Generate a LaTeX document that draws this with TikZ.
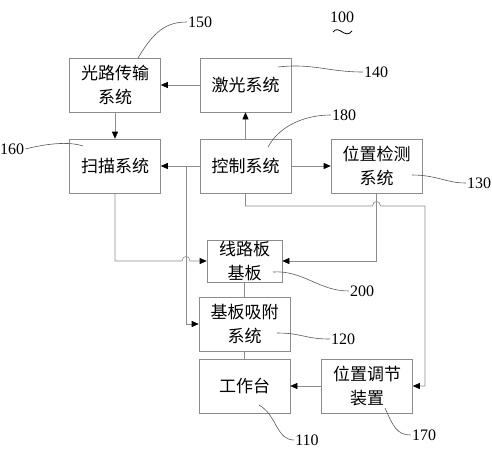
\documentclass[tikz,border=0pt]{standalone}
\usepackage{fontspec}
\setmainfont{Liberation Serif}
\newfontfamily\cjk{Noto Sans CJK SC}
\usetikzlibrary{arrows.meta}

\begin{document}
\begin{tikzpicture}[x=1pt,y=-1pt,
    box/.style={draw=black!45, line width=0.6pt, minimum width=91pt, minimum height=54pt,
        inner sep=0pt, align=center, font=\cjk\fontsize{17}{24}\selectfont},
    wire/.style={draw=black!45, line width=0.6pt},
    arr/.style={wire, -{Triangle[length=7pt,width=6pt,color=black]}},
    lead/.style={draw=black!65, line width=0.6pt},
    num/.style={font=\fontsize{16}{16}\selectfont, inner sep=1pt}]
    % Picture size (pixels of the reference)
    \def\hop{4}   % half width of a line hop
    \useasboundingbox (0,0) rectangle (492,450);

    % Blocks
    \node[box] (optic)  at (115,85)    {光路传输\\系统};
    \node[box] (laser)  at (245.5,85)  {激光系统};
    \node[box] (scan)   at (115,166)   {扫描系统};
    \node[box] (ctrl)   at (245.5,166) {控制系统};
    \node[box] (detect) at (376.5,166) {位置检测\\系统};
    \node[box, minimum width=75pt, minimum height=42pt] (board) at (244.5,261) {线路板\\基板};
    \node[box] (suck)   at (244.5,324) {基板吸附\\系统};
    \node[box] (table)  at (244.5,386) {工作台};
    \node[box] (adjust) at (367,386)   {位置调节\\装置};

    % Reference numbers
    \node[num] (n100) at (342,17)  {100};
    \node[num] (n150) at (200,22)  {150};
    \node[num] (n140) at (376,72)  {140};
    \node[num] (n180) at (344,115) {180};
    \node[num] (n160) at (12,149)  {160};
    \node[num] (n130) at (479,183) {130};
    \node[num] (n200) at (362,291) {200};
    \node[num] (n120) at (343,339) {120};
    \node[num] (n110) at (307,440) {110};
    \node[num] (n170) at (424,435) {170};
    \draw[line width=0.8pt] (333,32) .. controls (339,24) and (345,40) .. (352,31);

    % Helper points
    \coordinate (branch) at (186,166);
    \coordinate (hopA) at (186,261);
    \coordinate (hopB) at (detect.south |- 0,206);
    \coordinate (turn) at (425,206);

    % Signal lines
    \draw[arr] (laser.west) -- (optic.east);
    \draw[arr] (optic.south) -- (scan.north);
    \draw[arr] (ctrl.north) -- (laser.south);
    \draw[arr] (ctrl.west) -- (scan.east);
    \draw[arr] (ctrl.east) -- (detect.west);
    \draw[arr] (branch) |- (suck.west);
    \draw[arr] (scan.south) |- ([xshift=-\hop pt]hopA)
        .. controls +(0,-6) and +(0,-6) .. ([xshift=\hop pt]hopA) -- (board.west);
    \draw[arr] (detect.south) |- (board.east);
    \draw[arr] (ctrl.south) |- ([xshift=-\hop pt]hopB)
        .. controls +(0,-6) and +(0,-6) .. ([xshift=\hop pt]hopB) -- (turn) |- (adjust.east);
    \draw[arr] (adjust.west) -- (table.east);
    \draw[wire] (board.south) -- (suck.north);
    \draw[wire] (suck.south) -- (table.north);

    % Leader lines
    \coordinate (l150) at (138,58);
    \coordinate (l140) at (278,67);
    \coordinate (l180) at (268,147);
    \coordinate (l160) at (83,146);
    \coordinate (l130) at (412,175);
    \coordinate (l200) at (273,272);
    \coordinate (l120) at (277,333);
    \coordinate (l110) at (259,405);
    \coordinate (l170) at (385,408);
    \draw[lead] (l150) .. controls +(15,-25) and +(-22,0) .. (n150.west);
    \draw[lead] (l140) .. controls +(35,-4) and +(-35,0) .. (n140.west);
    \draw[lead] (l180) .. controls +(12,-22) and +(-25,0) .. (n180.west);
    \draw[lead] (n160.east) .. controls +(20,-5) and +(-15,-5) .. (l160);
    \draw[lead] (l130) .. controls +(25,0) and +(-20,0) .. (n130.west);
    \draw[lead] (l200) .. controls +(30,-2) and +(-30,0) .. (n200.west);
    \draw[lead] (l120) .. controls +(25,0) and +(-25,0) .. (n120.west);
    \draw[lead] (l110) .. controls +(18,10) and +(-18,0) .. (n110.west);
    \draw[lead] (l170) .. controls +(8,18) and +(-14,0) .. (n170.west);
\end{tikzpicture}
\end{document}
